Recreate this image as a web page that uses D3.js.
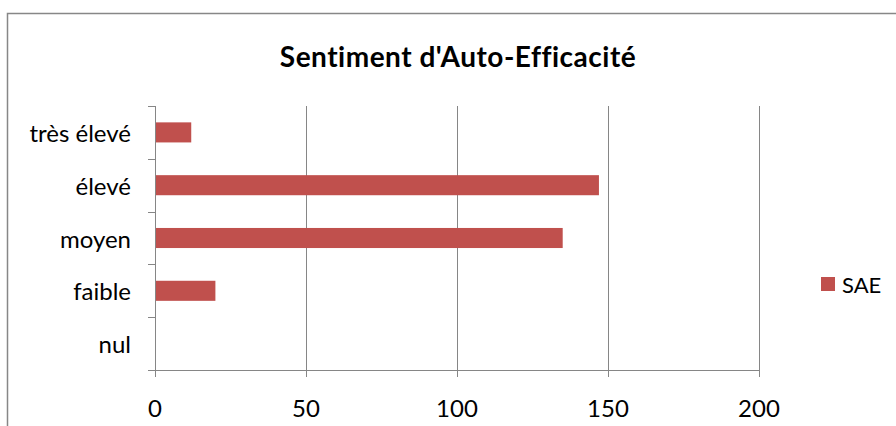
<!DOCTYPE html>
<html><head><meta charset="utf-8">
<script src="https://cdn.jsdelivr.net/npm/d3@7"></script>
<style>body{margin:0;background:#fff}svg{display:block}</style>
</head><body>
<svg id="c" width="896" height="426"></svg>
<script>
const categories = ["très élevé", "élevé", "moyen", "faible", "nul"];
const seriesName = "SAE";
const values = [12, 147, 135, 20, 0];
const xTicks = [0, 50, 100, 150, 200];
const title = "Sentiment d'Auto-Efficacité";

const svg = d3.select("#c");
const font = "Lato, 'Open Sans', sans-serif";
const axisColor = "#868686";
const barColor = "#C0504D";

svg.append("rect").attr("x", 7.5).attr("y", 13.5).attr("width", 900).attr("height", 430)
  .attr("fill", "#fff").attr("stroke", "#878787").attr("stroke-width", 1.5);

const m = {left: 155, right: 759, top: 106, bottom: 370};
const x = d3.scaleLinear().domain([0, 200]).range([m.left, m.right]);
const y = d3.scaleBand().domain(categories).range([m.top, m.bottom]).paddingInner(0.62).paddingOuter(0.31);

// gridlines
svg.append("g").selectAll("line").data(xTicks.filter(t => t > 0)).join("line")
  .attr("x1", d => Math.round(x(d)) + 0.5).attr("x2", d => Math.round(x(d)) + 0.5)
  .attr("y1", m.top).attr("y2", m.bottom)
  .attr("stroke", axisColor).attr("stroke-width", 1);

// bars
svg.append("g").selectAll("rect").data(values).join("rect")
  .attr("x", x(0) + 1).attr("y", (d, i) => y(categories[i]))
  .attr("width", d => Math.max(0, x(d) - x(0) - 1)).attr("height", y.bandwidth())
  .attr("fill", barColor);

// y axis
const yAxisG = svg.append("g");
yAxisG.append("line").attr("x1", m.left + 0.5).attr("x2", m.left + 0.5).attr("y1", m.top).attr("y2", m.bottom).attr("stroke", axisColor);
const boundaries = d3.range(categories.length + 1).map(i => m.top + i * (m.bottom - m.top) / categories.length);
yAxisG.selectAll("line.t").data(boundaries).join("line").attr("class", "t")
  .attr("x1", m.left - 7).attr("x2", m.left)
  .attr("y1", d => Math.round(d) + 0.5).attr("y2", d => Math.round(d) + 0.5).attr("stroke", axisColor);
yAxisG.selectAll("text").data(categories).join("text")
  .attr("x", 131).attr("y", d => y(d) + y.bandwidth() / 2)
  .attr("text-anchor", "end").attr("dominant-baseline", "central")
  .attr("font-family", font).attr("font-size", 24).attr("fill", "#000").text(d => d);

// x axis
const xAxisG = svg.append("g");
xAxisG.append("line").attr("x1", m.left - 7).attr("x2", m.right).attr("y1", m.bottom + 0.5).attr("y2", m.bottom + 0.5).attr("stroke", axisColor);
xAxisG.selectAll("line.t").data(xTicks).join("line").attr("class", "t")
  .attr("x1", d => Math.round(x(d)) + 0.5).attr("x2", d => Math.round(x(d)) + 0.5)
  .attr("y1", m.bottom).attr("y2", m.bottom + 7).attr("stroke", axisColor);
xAxisG.selectAll("text").data(xTicks).join("text")
  .attr("x", d => x(d)).attr("y", 407)
  .attr("text-anchor", "middle").attr("dominant-baseline", "central")
  .attr("font-family", font).attr("font-size", 24).attr("fill", "#000").text(d => d);

// title
svg.append("text").attr("x", 458).attr("y", 56).attr("text-anchor", "middle").attr("dominant-baseline", "central")
  .attr("font-family", font).attr("font-weight", "bold").attr("font-size", 28)
  .attr("letter-spacing", 0.5).attr("fill", "#000").text(title);

// legend
const lg = svg.append("g");
lg.append("rect").attr("x", 821).attr("y", 277).attr("width", 14).attr("height", 14).attr("fill", barColor);
lg.append("text").attr("x", 842).attr("y", 284).attr("dominant-baseline", "central")
  .attr("font-family", font).attr("font-size", 22).attr("fill", "#000").text(seriesName);
</script>
</body></html>
